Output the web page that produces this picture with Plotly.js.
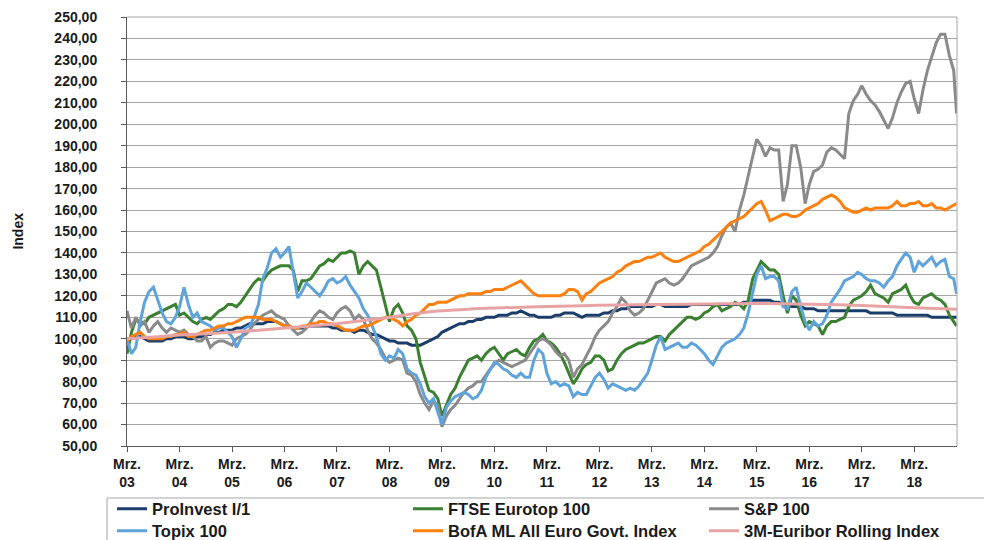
<!DOCTYPE html>
<html><head><meta charset="utf-8">
<script src="https://cdn.plot.ly/plotly-3.0.1.min.js"></script>
<style>html,body{margin:0;padding:0;background:#fff}#chart{width:984px;height:540px}</style>
</head><body><div id="chart"></div>
<script>
// monthly observations, first of each month from Mar 2003 to Dec 2018, plus the last day shown
const firstYear = 2003, firstMonth = 3, monthCount = 190, lastDate = '2018-12-21';

const proinvest = [
100,100,101,101,100,99,99,99,99,100,100,101,
101,101,100,100,101,101,102,102,103,103,104,104,
104,105,105,106,107,107,107,107,108,108,108,107,
106,106,105,105,105,106,106,106,106,106,106,105,
105,104,104,104,103,104,104,103,102,102,101,100,
99,99,98,98,98,97,97,97,98,99,100,101,
103,104,105,106,107,107,108,108,109,109,110,110,
110,111,111,111,112,112,113,112,111,111,110,110,
110,110,111,111,112,112,112,111,110,111,111,111,
111,112,112,113,113,114,114,115,115,115,115,115,
115,116,116,115,115,115,115,115,115,116,116,116,
116,116,116,116,116,116,116,116,116,117,117,118,
118,118,118,118,117,117,116,116,115,115,115,114,
114,114,113,113,113,113,113,113,113,113,113,113,
113,113,112,112,112,112,112,112,111,111,111,111,
111,111,111,111,110,110,110,110,110,110,
110];

const ftse = [
93,103,109,108,107,110,111,112,113,114,115,116,
111,112,110,108,107,109,110,109,111,113,114,116,
116,115,117,120,123,126,128,127,130,132,133,134,
134,134,132,122,127,127,128,131,134,135,137,136,
138,140,140,141,140,130,134,136,134,132,124,116,
108,114,116,112,106,104,100,89,82,76,75,72,
64,69,74,77,82,86,90,91,92,90,93,95,
96,93,90,93,94,95,93,92,96,99,100,102,
99,98,96,93,89,84,79,82,86,88,89,92,
92,90,85,86,90,93,95,96,97,98,98,99,
100,101,101,99,102,104,106,108,110,110,109,110,
112,113,115,116,113,114,115,117,116,114,118,128,
132,136,134,132,132,130,120,112,120,118,111,106,
108,107,106,102,106,108,108,109,110,115,118,119,
120,122,125,121,120,119,117,121,122,123,125,120,
117,116,119,120,121,119,118,116,111,108,
106];

const sp100 = [
113,105,110,106,108,103,106,108,105,103,105,104,
103,104,102,101,99,99,101,96,98,99,99,98,
97,100,101,102,104,107,109,111,112,113,111,110,
109,106,104,102,103,105,108,111,113,112,110,109,
112,114,115,113,109,111,109,104,100,98,95,91,
89,90,91,90,84,83,80,74,70,67,71,69,
59,64,67,69,72,75,77,78,80,80,83,86,
88,90,89,88,87,88,89,90,93,96,99,100,
99,97,94,92,93,90,82,86,88,92,96,101,
104,106,108,112,115,119,117,113,111,112,114,118,
122,126,127,128,126,125,126,128,131,134,135,136,
137,138,140,143,148,152,154,150,160,167,176,185,
193,190,185,189,188,188,164,172,190,190,180,163,
172,178,179,181,187,189,188,186,184,205,211,214,
218,214,211,209,206,202,198,203,210,215,219,220,
212,205,216,225,232,238,242,242,232,225,
205];

const topix = [
100,93,96,108,117,122,124,118,112,108,107,110,
115,124,116,110,112,108,107,106,104,105,105,103,
101,96,100,105,106,110,116,128,133,140,142,138,
140,143,132,119,122,126,124,122,120,123,127,128,
126,127,129,125,122,119,114,111,106,101,93,90,
92,91,95,93,86,84,83,79,73,70,72,66,
60,68,71,73,74,75,74,72,73,76,82,86,
89,88,86,85,83,82,84,82,82,90,95,93,
84,79,80,78,79,78,73,75,74,74,78,82,
84,81,77,79,78,77,76,77,76,78,81,84,
90,97,101,95,96,97,98,96,96,98,97,95,
93,90,88,92,96,98,99,100,102,105,112,122,
130,134,128,129,129,127,115,114,122,124,115,108,
104,108,106,107,111,117,120,123,127,128,129,131,
130,128,127,127,126,124,127,129,134,137,140,138,
131,136,134,136,138,134,136,137,129,128,
121];

const bofa = [
99,101,102,103,101,100,100,100,100,101,101,102,
102,103,101,101,102,103,104,104,105,106,106,107,
107,108,109,110,110,110,110,109,109,109,108,107,
106,106,105,105,106,106,107,107,108,108,107,107,
106,105,104,104,104,105,106,106,107,108,109,110,
110,109,108,106,108,109,111,112,114,116,116,117,
117,117,118,119,120,120,121,121,121,121,122,122,
123,123,123,124,125,126,127,125,123,121,120,120,
120,120,120,120,121,123,123,122,118,121,122,124,
126,127,128,129,131,132,134,135,136,136,137,138,
138,139,140,138,137,136,136,137,138,139,140,141,
143,144,146,148,150,152,154,155,156,157,159,161,
163,164,160,155,156,157,158,158,157,157,158,160,
161,162,163,165,166,167,166,164,161,160,159,159,
160,161,160,161,161,161,161,162,164,162,162,163,
163,164,162,162,163,161,161,160,161,162,
163];

const euriborDates = ['2003-03-01','2003-09-01','2004-03-01','2004-09-01','2005-03-01','2005-09-01',
'2006-03-01','2006-09-01','2007-03-01','2007-09-01','2008-03-01','2008-09-01','2009-03-01','2009-09-01',
'2010-03-01','2011-03-01','2012-03-01','2013-03-01','2014-03-01','2015-03-01','2016-03-01','2017-03-01',
'2018-03-01','2018-12-21'];
const euribor = [100,100.8,101.7,102.3,103,104,105,106,107,108.5,110,111.8,113,113.8,
114.3,115,115.6,116,116.2,116.4,116.1,115.5,114.5,113.8];

const seriesNames = ['ProInvest I/1','FTSE Eurotop 100','S&P 100','Topix 100','BofA ML All Euro Govt. Index','3M-Euribor Rolling Index'];
const seriesColors = ['#1b3d6b','#3a8030','#8a8a8a','#5fa3dc','#ff800e','#e8a4a4'];
const legendRow = ['legend','legend','legend','legend2','legend2','legend2'];

const tickDates = ['2003-03-01','2004-03-01','2005-03-01','2006-03-01','2007-03-01','2008-03-01','2009-03-01','2010-03-01',
'2011-03-01','2012-03-01','2013-03-01','2014-03-01','2015-03-01','2016-03-01','2017-03-01','2018-03-01'];
const tickLabels = ['Mrz.<br>03','Mrz.<br>04','Mrz.<br>05','Mrz.<br>06','Mrz.<br>07','Mrz.<br>08','Mrz.<br>09','Mrz.<br>10',
'Mrz.<br>11','Mrz.<br>12','Mrz.<br>13','Mrz.<br>14','Mrz.<br>15','Mrz.<br>16','Mrz.<br>17','Mrz.<br>18'];

function monthDates(){
  const d = [];
  for (let m = 0; m < monthCount; m++) {
    const t = firstMonth - 1 + m;
    const y = firstYear + Math.floor(t / 12);
    const mo = t % 12 + 1;
    d.push(y + '-' + String(mo).padStart(2, '0') + '-01');
  }
  d.push(lastDate);
  return d;
}
const dates = monthDates();

const values = [proinvest, ftse, sp100, topix, bofa];
const traces = values.map((v, i) => ({
  type: 'scatter', mode: 'lines', x: dates, y: v, name: seriesNames[i], legend: legendRow[i],
  line: {color: seriesColors[i], width: 3}
}));
traces.push({type: 'scatter', mode: 'lines', x: euriborDates, y: euribor, name: seriesNames[5], legend: legendRow[5],
  line: {color: seriesColors[5], width: 3, shape: 'spline'}});

const F = 'Liberation Sans, Arial, sans-serif';
const legendBase = {
  orientation: 'h', x: -0.01805, xanchor: 'left', yanchor: 'middle',
  entrywidth: 251, entrywidthmode: 'pixels',
  borderwidth: 0, bgcolor: 'rgba(0,0,0,0)',
  font: {family: F, size: 16.5, weight: 'bold', color: '#1a1a1a'},
  traceorder: 'normal'
};
const layout = {
  width: 984, height: 540,
  margin: {l: 127, r: 27, t: 17, b: 94, autoexpand: false},
  paper_bgcolor: '#fff', plot_bgcolor: '#fff',
  separators: ',.',
  showlegend: true,
  xaxis: {
    type: 'date', range: ['2003-03-01', '2018-12-24'],
    tickmode: 'array', tickvals: tickDates, ticktext: tickLabels,
    ticks: 'outside', ticklen: 5, tickcolor: '#595959',
    showline: true, linecolor: '#595959', linewidth: 1,
    showgrid: false, zeroline: false,
    tickfont: {family: F, size: 14, weight: 'bold', color: '#1a1a1a'}
  },
  yaxis: {
    range: [50, 250], tick0: 50, dtick: 10, tickformat: '.2f',
    ticks: 'outside', ticklen: 5, tickcolor: '#595959', ticklabelstandoff: 21,
    showline: true, linecolor: '#595959', linewidth: 1,
    gridcolor: '#a6a6a6', gridwidth: 1, zeroline: false,
    tickfont: {family: F, size: 14, weight: 'bold', color: '#1a1a1a'}
  },
  legend: Object.assign({}, legendBase, {y: -0.1469}),
  legend2: Object.assign({}, legendBase, {y: -0.1981}),
  annotations: [{
    text: 'Index', xref: 'paper', yref: 'paper', x: -0.1324, y: 0.5,
    xanchor: 'center', yanchor: 'middle', textangle: -90, showarrow: false,
    font: {family: F, size: 14, weight: 'bold', color: '#1a1a1a'}
  }],
  shapes: [
    {type: 'line', xref: 'paper', yref: 'paper', x0: 0, x1: 1, y0: 1, y1: 1, line: {color: '#a6a6a6', width: 1}},
    {type: 'line', xref: 'paper', yref: 'paper', x0: 1, x1: 1, y0: 0, y1: 1, line: {color: '#a6a6a6', width: 1}},
    {type: 'rect', xref: 'paper', yref: 'paper', x0: -0.02407, x1: 1.06, y0: -0.1212, y1: -0.26,
     line: {color: '#a6a6a6', width: 1}, fillcolor: 'rgba(0,0,0,0)'}
  ]
};
Plotly.newPlot('chart', traces, layout, {displayModeBar: false, staticPlot: true});
</script>
</body></html>
